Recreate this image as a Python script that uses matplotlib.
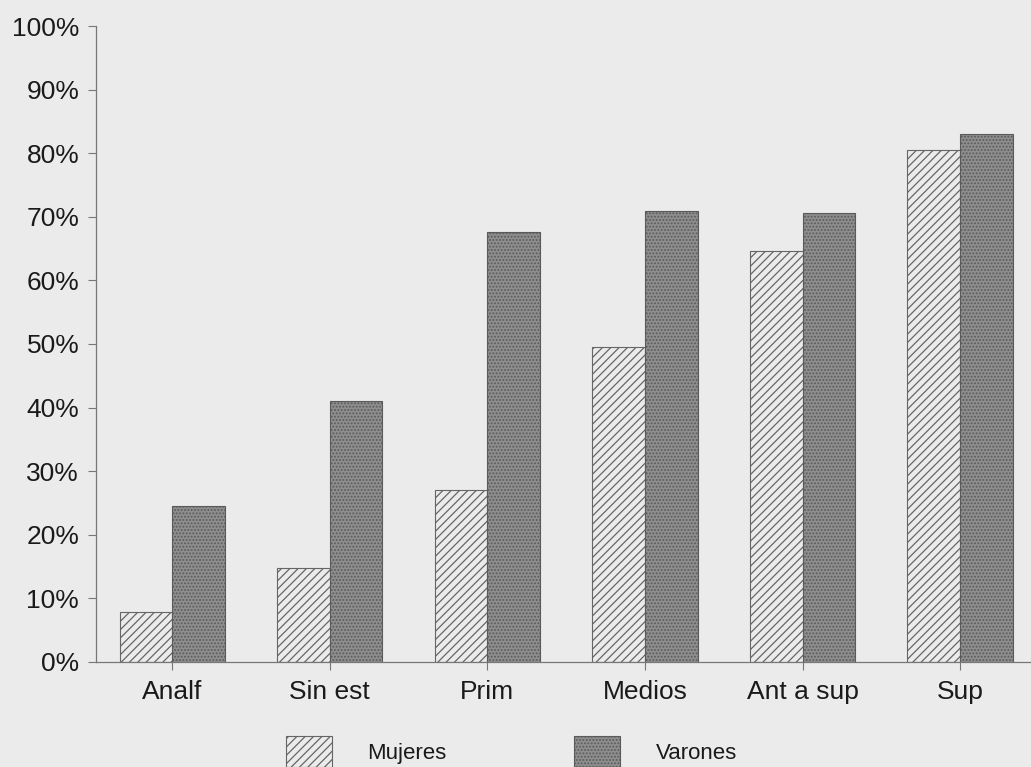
import numpy as np
import matplotlib.pyplot as plt
from matplotlib.patches import Patch

plt.rcParams['font.family'] = ['Liberation Sans', 'DejaVu Sans']
plt.rcParams['hatch.linewidth'] = 0.9

categories = ['Analf', 'Sin est', 'Prim', 'Medios', 'Ant a sup', 'Sup']
mujeres = [7.9, 14.8, 27.1, 49.6, 64.7, 80.5]
varones = [24.6, 41.1, 67.6, 70.9, 70.6, 83.0]
yticks = list(range(0, 101, 10))

bg = '#ebebeb'
fig = plt.figure(figsize=(10.31, 7.67), dpi=100, facecolor=bg)
ax = fig.add_axes([0.093, 0.137, 0.907, 0.829])
ax.set_facecolor(bg)

x = np.arange(len(categories))
w = 0.334
muj_style = dict(facecolor=bg, edgecolor='#666666', hatch='////', linewidth=0.8)
var_style = dict(facecolor='#8e8e8e', edgecolor='#5a5a5a', hatch='.....',
                 linewidth=0.8)
ax.bar(x - w / 2, mujeres, w, **muj_style)
ax.bar(x + w / 2, varones, w, **var_style)

ax.set_xlim(-0.485, 5.45)
ax.set_ylim(0, 100)
ax.set_xticks(x)
ax.set_xticklabels(categories, fontsize=19, color='#1a1a1a')
ax.set_yticks(yticks)
ax.set_yticklabels([f'{v}%' for v in yticks], fontsize=19, color='#1a1a1a')
ax.tick_params(axis='both', color='#777777', length=6, width=0.8, pad=6)
ax.tick_params(axis='x', pad=7)
for side in ['top', 'right']:
    ax.spines[side].set_visible(False)
for side in ['left', 'bottom']:
    ax.spines[side].set_color('#777777')
    ax.spines[side].set_linewidth(0.9)

handles = [Patch(**muj_style), Patch(**var_style)]
fig.legend(handles, ['Mujeres', 'Varones'], loc='center',
           bbox_to_anchor=(0.496, 0.02), ncol=2, frameon=False, fontsize=16,
           borderpad=0, handlelength=2.07, handleheight=1.8,
           handletextpad=1.58, columnspacing=5.77, labelcolor='#1a1a1a')

fig.savefig('out.png', dpi=100, facecolor=bg)
